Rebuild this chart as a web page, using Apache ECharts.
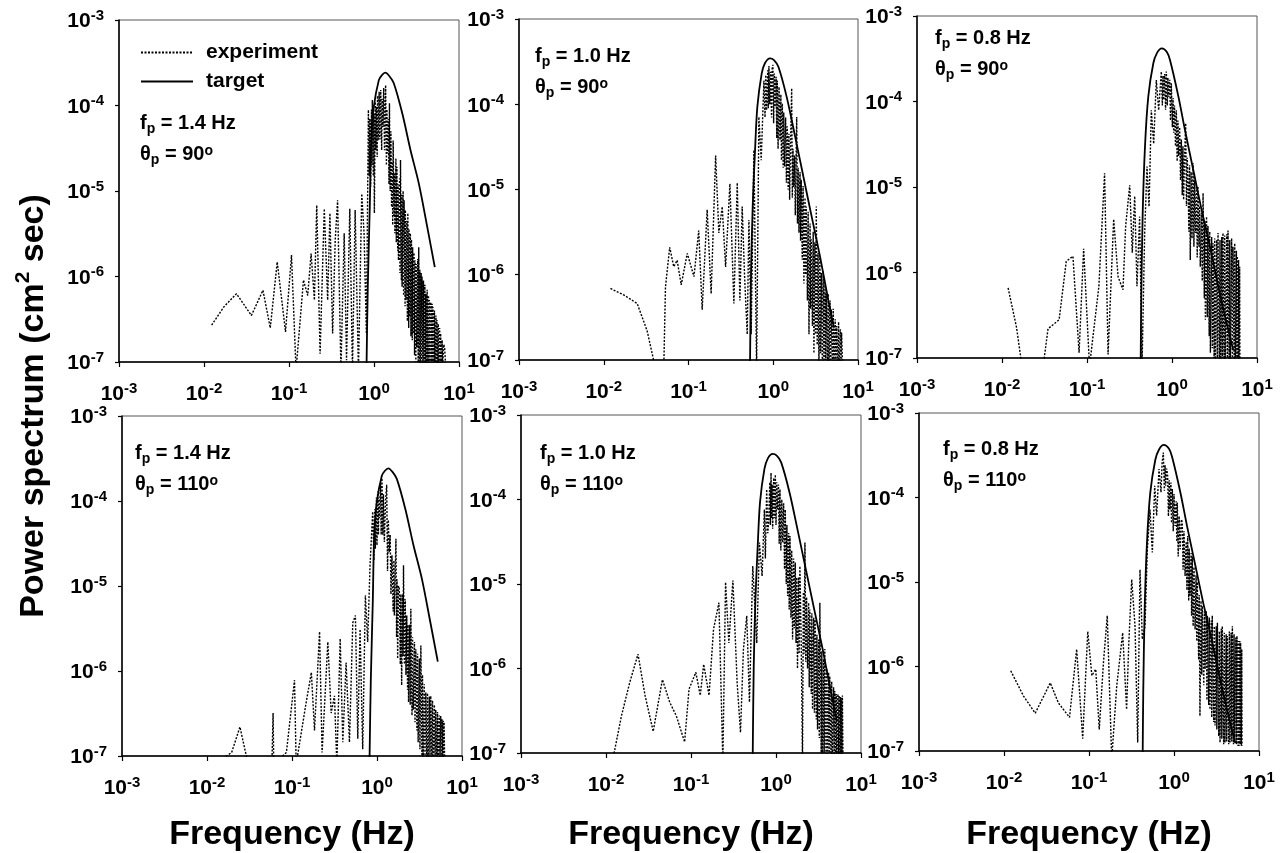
<!DOCTYPE html>
<html>
<head>
<meta charset="utf-8">
<title>Power spectrum</title>
<script src="https://cdn.jsdelivr.net/npm/echarts/dist/echarts.min.js"></script>
<style>
    html, body { margin: 0; padding: 0; background: #fff; }
    #chart { width: 1282px; height: 853px; }
</style>
</head>
<body>
<div id="chart"></div>
<script>

// target spectra (solid), [frequency Hz, power cm^2 sec]
var target14 = [[0.817,9e-8],[0.845,7.5e-7],[0.892,6.5e-6],[0.927,3.9e-5],[0.995,9.7e-5],[1.14,1.98e-4],[1.24,2.27e-4],[1.36,2.42e-4],
    [1.52,2.2e-4],[1.71,1.82e-4],[2.15,8.1e-5],[2.69,3.0e-5],[3.37,1.22e-5],[4.23,3.8e-6],[5.19,1.29e-6]];
var target10 = [[0.532,9e-8],[0.547,1.04e-6],[0.572,6.3e-6],[0.61,2.9e-5],[0.649,9.3e-5],[0.731,2.3e-4],[0.80,3.05e-4],[0.916,3.46e-4],
    [1.02,3.3e-4],[1.15,2.75e-4],[1.44,1.22e-4],[1.81,4.2e-5],[2.27,1.41e-5],[2.84,4.8e-6],[3.57,1.62e-6],[4.47,5.0e-7],[5.2,2.4e-7]];
var target08 = [[0.428,9e-8],[0.435,5.2e-7],[0.452,4.9e-6],[0.481,2.96e-5],[0.526,1.14e-4],[0.603,2.8e-4],[0.667,3.7e-4],[0.757,4.19e-4],
    [0.87,3.8e-4],[0.947,3.05e-4],[1.19,1.14e-4],[1.42,4.65e-5],[1.78,1.58e-5],[2.23,5.4e-6],[2.80,2.0e-6],[3.51,6.8e-7],[4.40,2.55e-7],[5.26,1.24e-7]];

// measured spectra (dotted)
var exp14_90 = [[0.0123,2.7e-7],[0.0171,4.4e-7],[0.0241,6.3e-7],[0.0361,3.5e-7],[0.0494,6.9e-7],[0.0602,2.5e-7],[0.0727,1.48e-6],
    [0.091,2.25e-7],[0.107,1.78e-6],[0.121,8e-8],[0.148,9.1e-7],[0.166,6.0e-7],[0.182,1.86e-6],[0.199,5.3e-7],[0.212,6.8e-6],
    [0.232,1.25e-7],[0.26,6.2e-6],[0.285,5.3e-7],[0.303,5.5e-6],[0.326,2.15e-7],[0.35,2.7e-6],[0.373,7.8e-6],[0.408,8e-8],
    [0.446,3.2e-6],[0.475,1.05e-7],[0.519,6.2e-6],[0.558,8e-8],[0.6,6.0e-6],[0.656,8e-8],[0.718,9.3e-6],[0.764,3.2e-6],
    [0.814,2.15e-7],[0.859,8.9e-5],[0.88,1.5e-5],[0.895,7e-5],[0.914,1.12e-5],[0.935,9e-5],[0.945,2e-5],[0.956,1.16e-4],
    [0.98,1.5e-5],[0.995,8e-5],[1.01,5.5e-6],[1.035,1.1e-4],[1.05,3e-5],[1.065,9.7e-5],[1.09,2.5e-5],[1.1,1.3e-4],[1.12,3.9e-5],
    [1.15,1.45e-4],[1.17,4e-5],[1.2,1.52e-4],[1.23,3e-5],[1.25,1.2e-4],[1.27,5.6e-5],[1.3,1.6e-4],[1.33,3e-5],[1.37,1.73e-4],
    [1.4,2e-5],[1.42,9e-5],[1.44,2.75e-5],[1.48,7e-5],[1.5,1.2e-5],[1.52,1.06e-4],[1.55,1e-5],[1.58,5e-5],
    [1.61,6.5e-6],[1.645,2.2e-5],[1.66,4e-6],[1.68,3.9e-5],[1.72,5e-6],
    [1.74,1.6e-5],[1.76,3.2e-6],[1.81,2.4e-5],[1.83,2.5e-6],[1.86,1.92e-5],[1.9,2e-6],[1.92,1.2e-5],[1.94,1.55e-6],[2.0,1.4e-5],
    [2.02,1.1e-6],[2.05,2.3e-5],[2.1,9e-7],[2.12,9e-6],[2.14,7.6e-7],[2.2,1.0e-5],[2.23,6e-7],[2.26,7.8e-6],[2.32,4.5e-7],
    [2.34,6e-6],[2.37,5.3e-7],[2.44,4.5e-6],[2.47,3e-7],[2.5,5.5e-6],[2.56,2.5e-7],[2.58,3.6e-6],[2.61,3.4e-7],[2.68,3.2e-6],
    [2.72,2e-7],[2.76,2.7e-6],[2.82,1.8e-7],[2.85,2.2e-6],[2.88,2.15e-7],[2.96,1.9e-6],[3.0,1.2e-7],[3.04,1.55e-6],[3.11,1e-7],
    [3.14,1.4e-6],[3.18,1.5e-7],[3.27,1.6e-6],[3.31,9e-8],[3.36,2.2e-6],[3.44,8e-8],[3.47,1.2e-6],[3.51,8e-8],[3.59,1.1e-6],
    [3.63,8e-8],[3.67,1.0e-6],[3.77,8e-8],[3.82,9e-7],[3.88,8e-8],[3.97,8e-7],[4.01,8e-8],[4.06,6.3e-7],[4.17,8e-8],[4.22,7e-7],
    [4.28,8e-8],[4.38,6e-7],[4.43,8e-8],[4.48,5.3e-7],[4.6,8e-8],[4.66,5e-7],[4.72,8e-8],[4.83,4.8e-7],[4.88,8e-8],[4.94,4.4e-7],
    [5.07,8e-8],[5.14,4e-7],[5.21,8e-8],[5.36,3.5e-7],[5.43,8e-8],[5.5,3.1e-7],[5.63,8e-8],[5.7,2.8e-7],[5.76,8e-8],[5.92,2.5e-7],
    [6.0,8e-8],[6.08,2.15e-7],[6.25,8e-8],[6.33,1.8e-7],[6.41,8e-8],[6.6,1.6e-7],[6.77,1.5e-7],[7.0,8e-8]];
var exp10_90 = [[0.012,6.9e-7],[0.0172,5.8e-7],[0.0248,4.6e-7],[0.0325,2.2e-7],[0.0407,8e-8],[0.0512,9e-8],[0.0535,7.2e-7],
    [0.06,2.1e-6],[0.067,1.24e-6],[0.0735,1.48e-6],[0.082,7.6e-7],[0.0967,1.78e-6],[0.116,9.5e-7],[0.132,3.3e-6],[0.145,3.9e-7],
    [0.166,5.8e-6],[0.185,6.0e-7],[0.209,2.5e-5],[0.228,3.1e-6],[0.25,6.3e-6],[0.274,1.23e-6],[0.308,1.17e-5],[0.343,4.6e-7],
    [0.376,1.2e-5],[0.404,5.0e-7],[0.43,6.3e-6],[0.459,9.5e-7],[0.493,2.0e-7],[0.516,4.4e-6],[0.549,2.0e-7],[0.591,2.9e-5],
    [0.636,8e-8],[0.677,7.1e-5],[0.721,2.2e-5],[0.776,1.9e-4],[0.80,7e-5],[0.815,2.2e-4],[0.834,8.5e-5],[0.86,2.5e-4],
    [0.875,9e-5],[0.889,2.8e-4],[0.91,1e-4],[0.93,2.4e-4],[0.955,7e-5],[0.97,2.6e-4],[0.991,2.9e-4],[1.01,6e-5],[1.03,2.3e-4],
    [1.05,9.3e-5],[1.08,2.1e-4],[1.1,4e-5],[1.115,1.9e-4],[1.14,3e-5],[1.17,1.6e-4],[1.2,3.8e-5],[1.23,1.3e-4],[1.25,2.2e-5],
    [1.28,1.02e-4],[1.31,1.8e-5],[1.33,8e-5],[1.36,1.86e-5],[1.4,7e-5],[1.43,1.2e-5],[1.46,5.5e-5],[1.5,1e-5],[1.53,4.5e-5],
    [1.56,7.6e-6],[1.6,3.5e-5],[1.65,1.54e-4],[1.68,8e-6],[1.71,3e-5],[1.75,1.07e-5],[1.79,2.5e-5],[1.82,5e-6],[1.86,2.2e-5],
    [1.89,7.1e-5],[1.93,4e-6],[1.97,1.8e-5],
    [2.01,3.1e-6],[2.07,1.6e-5],[2.1,2.5e-6],[2.14,1.3e-5],[2.2,1.5e-6],[2.25,1.1e-5],[2.3,7.9e-7],
    [2.37,8e-6],[2.41,1e-6],[2.45,6.3e-6],[2.53,5e-7],[2.58,5.5e-6],[2.64,2.0e-7],[2.72,4e-6],[2.76,4e-7],[2.81,2.6e-6],
    [2.9,2.5e-7],[2.96,3.2e-6],[3.02,1.2e-7],[3.1,2.4e-6],[3.15,2e-7],[3.22,6.3e-6],[3.3,1.5e-7],[3.38,1.8e-6],[3.46,8e-8],
    [3.55,1.6e-6],[3.62,1.2e-7],[3.69,1.05e-6],[3.8,8e-8],[3.88,1.1e-6],[3.97,8e-8],[4.08,8e-7],[4.15,1e-7],[4.23,6.0e-7],
    [4.36,8e-8],[4.45,6e-7],[4.54,8e-8],[4.68,5e-7],[4.76,8e-8],[4.84,3.9e-7],[5.0,8e-8],[5.1,4e-7],[5.2,8e-8],[5.38,3e-7],
    [5.48,8e-8],[5.6,2.5e-7],[5.8,8e-8],[5.9,2.8e-7],[6.0,8e-8],[6.2,2.3e-7],[6.3,8e-8],[6.4,2.1e-7],[6.6,8e-8]];
var exp08_90 = [[0.0118,6.6e-7],[0.0148,2.3e-7],[0.0172,8e-8],[0.0305,8e-8],[0.0348,2.2e-7],[0.047,2.8e-7],[0.057,1.35e-6],
    [0.0683,1.55e-6],[0.0807,1.15e-7],[0.0913,1.9e-6],[0.107,8e-8],[0.138,6.9e-7],[0.161,1.45e-5],[0.177,1.1e-7],[0.206,4.2e-6],
    [0.232,8.9e-7],[0.265,6.3e-7],[0.285,3.5e-6],[0.318,1.05e-5],[0.341,1.7e-6],[0.364,7.8e-6],[0.387,6.9e-7],[0.416,4.5e-6],
    [0.444,8e-8],[0.477,2.9e-6],[0.508,1.74e-5],[0.537,5.9e-6],[0.571,7.9e-5],[0.609,3.2e-5],[0.654,1.78e-4],[0.697,7.9e-5],
    [0.749,2.24e-4],[0.77,9e-5],[0.785,2e-4],[0.798,1.05e-4],[0.82,2.1e-4],[0.84,8e-5],[0.858,2.24e-4],[0.88,9e-5],[0.895,1.9e-4],
    [0.914,1.14e-4],[0.94,1.8e-4],[0.96,6e-5],[0.982,1.63e-4],[1.01,5e-5],[1.03,1.1e-4],[1.046,4.3e-5],[1.07,9e-5],[1.1,3e-5],
    [1.124,7.9e-5],[1.15,2e-5],[1.175,6e-5],[1.198,2.3e-5],[1.23,5e-5],[1.26,1.2e-5],[1.288,3.6e-5],[1.32,8e-6],[1.345,3e-5],
    [1.37,7.1e-6],[1.41,2.5e-5],[1.448,5.6e-5],[1.48,6e-6],[1.51,2.2e-5],[1.54,1.3e-5],[1.58,3e-6],[1.61,1.8e-5],[1.64,1.4e-6],
    [1.68,1.5e-5],[1.72,2.5e-6],[1.77,1.9e-5],[1.81,2e-6],[1.85,1.2e-5],[1.9,2.9e-6],[1.95,1e-5],[1.98,1.5e-6],[2.02,1.02e-5],
    [2.08,2e-6],[2.11,6e-6],[2.15,1.17e-6],[2.22,5e-6],[2.27,8e-7],[2.32,8.5e-6],[2.4,5e-7],[2.43,4e-6],[2.47,2.8e-7],[2.55,4.5e-6],
    [2.6,3e-7],[2.65,3.5e-6],[2.74,1.8e-7],[2.78,3e-6],[2.83,1.15e-7],[2.93,2.6e-6],[2.98,1.3e-7],[3.04,2.2e-6],[3.13,1e-7],
    [3.18,2.5e-6],[3.23,8e-8],[3.35,2.4e-6],[3.41,1e-7],[3.48,2.9e-6],[3.6,8e-8],[3.67,2.4e-6],[3.74,8e-8],[3.85,2.6e-6],
    [3.91,1e-7],[3.98,2.9e-6],[4.1,8e-8],[4.17,2.7e-6],[4.24,8e-8],[4.4,2.8e-6],[4.48,1e-7],[4.56,3.1e-6],[4.7,8e-8],[4.78,2.4e-6],
    [4.86,8e-8],[5.03,2.5e-6],[5.12,1e-7],[5.22,2.0e-6],[5.38,8e-8],[5.47,2.2e-6],[5.56,8e-8],[5.72,1.8e-6],[5.8,1e-7],
    [5.87,1.55e-6],[6.0,8e-8],[6.07,1.4e-6],[6.14,8e-8],[6.25,1.17e-6],[6.3,8e-8]];
var exp14_110 = [[0.0122,8e-8],[0.0195,1.1e-7],[0.0244,2.2e-7],[0.0305,8e-8],[0.058,8e-8],[0.0599,3.2e-7],[0.061,8e-8],
    [0.0859,1.1e-7],[0.107,7.8e-7],[0.112,8e-8],[0.147,4.3e-7],[0.169,9.6e-7],[0.184,2.0e-7],[0.211,2.9e-6],[0.226,1.1e-7],
    [0.264,2.2e-6],[0.289,3.2e-7],[0.316,5.1e-7],[0.337,8e-8],[0.369,2.4e-6],[0.396,1.45e-7],[0.433,1.26e-6],[0.474,1.45e-7],
    [0.519,3.7e-6],[0.557,4.5e-6],[0.594,1.6e-7],[0.632,3.1e-6],[0.679,1.2e-7],[0.73,7.8e-6],[0.777,2.2e-6],[0.828,1.75e-5],
    [0.89,7.5e-5],[0.92,2e-5],[0.94,8e-5],[0.956,2.75e-5],[0.985,1.1e-4],[1.0,3e-5],[1.018,1.29e-4],[1.04,4e-5],[1.05,1.1e-4],
    [1.065,6.3e-5],[1.1,1.6e-4],[1.12,4e-5],[1.144,1.85e-4],[1.17,4e-5],[1.19,1.2e-4],[1.22,3.3e-5],[1.26,1e-4],[1.3,1.55e-4],
    [1.33,1.5e-5],[1.36,6e-5],[1.39,2.5e-5],[1.43,4e-5],[1.46,8e-6],[1.5,2.3e-5],[1.55,5e-6],[1.58,2e-5],[1.6,4.5e-6],
    [1.67,3.6e-5],[1.7,2.5e-6],[1.72,1.2e-5],[1.75,1.4e-6],[1.79,1e-5],[1.83,9.3e-6],[1.88,1.2e-6],[1.91,8e-6],
    [1.95,6.8e-7],[2.0,8e-6],[2.02,1.5e-6],[2.05,1.75e-5],
    [2.1,1.2e-6],[2.15,7e-6],[2.19,9e-7],[2.24,4.5e-6],[2.29,6e-7],[2.32,3.5e-6],[2.35,4.3e-7],[2.42,3.5e-6],[2.46,4e-7],
    [2.5,5.4e-6],[2.58,3e-7],[2.62,2.5e-6],[2.67,3.5e-7],[2.76,2.2e-6],[2.8,2.5e-7],[2.86,1.8e-6],[2.95,2e-7],[3.0,1.6e-6],
    [3.05,1.45e-7],[3.15,1.4e-6],[3.2,1.2e-7],[3.28,2.0e-6],[3.38,1e-7],[3.43,9e-7],[3.49,8e-8],[3.6,7e-7],[3.67,1e-7],
    [3.75,5.6e-7],[3.86,8e-8],[3.93,5.5e-7],[4.0,8e-8],[4.13,5e-7],[4.2,9e-8],[4.29,5.1e-7],[4.42,8e-8],[4.5,4.5e-7],[4.57,8e-8],
    [4.73,4e-7],[4.82,9e-8],[4.91,3.5e-7],[5.06,8e-8],[5.15,3.3e-7],[5.23,8e-8],[5.4,3e-7],[5.5,9e-8],[5.62,2.95e-7],[5.75,8e-8],
    [5.82,2.7e-7],[5.89,8e-8],[6.02,2.6e-7],[6.08,8e-8],[6.15,2.5e-7],[6.26,8e-8]];
var exp10_110 = [[0.0122,9e-8],[0.0152,2.75e-7],[0.019,6.8e-7],[0.0238,1.48e-6],[0.0288,4.8e-7],[0.0359,1.8e-7],[0.0461,7.4e-7],
    [0.0561,4.0e-7],[0.0672,2.75e-7],[0.0841,1.35e-7],[0.0948,5.7e-7],[0.114,9.0e-7],[0.1285,4.8e-7],[0.141,1.12e-6],[0.163,4.8e-7],
    [0.184,2.9e-6],[0.213,6.0e-6],[0.237,8e-8],[0.255,1.05e-5],[0.279,2.0e-6],[0.311,1.1e-5],[0.349,6.8e-7],[0.382,1.75e-7],
    [0.414,1.7e-6],[0.453,4.2e-6],[0.487,4.0e-7],[0.533,1.63e-5],[0.594,2.0e-6],[0.638,3.1e-5],[0.686,1.24e-5],[0.73,7.6e-5],
    [0.75,2e-5],[0.777,1.32e-4],[0.8,4e-5],[0.82,5.3e-5],[0.845,1.6e-4],[0.86,5e-5],[0.874,2.07e-4],[0.89,6e-5],[0.9,1.5e-4],
    [0.914,4.5e-5],[0.94,1.8e-4],[0.96,6e-5],[0.982,1.97e-4],[1.0,5e-5],[1.02,1.6e-4],[1.046,7.6e-5],[1.07,1.5e-4],[1.09,3e-5],
    [1.114,1.32e-4],[1.14,2.5e-5],[1.17,1e-4],[1.197,3.1e-5],[1.23,9e-5],[1.26,1.5e-5],[1.286,7.6e-5],[1.32,1e-5],[1.345,5e-5],
    [1.37,7.2e-6],[1.41,4e-5],[1.43,5e-6],[1.46,3.7e-5],[1.5,4e-6],[1.53,2.5e-5],[1.567,2.2e-6],[1.61,2e-5],[1.64,3e-6],
    [1.685,1.8e-5],[1.72,2e-6],[1.75,1.2e-5],[1.79,1.0e-6],[1.84,1.2e-5],[1.87,1.5e-6],[1.91,1.63e-5],[1.98,2e-6],[2.05,8e-8],
    [2.1,8e-6],[2.14,1.5e-6],[2.19,3.1e-5],[2.24,1.2e-6],[2.29,7e-6],[2.35,1.0e-6],[2.42,6e-6],[2.46,6e-7],[2.5,5.0e-6],[2.6,5e-7],
    [2.64,4.5e-6],[2.69,3.3e-7],[2.78,4e-6],[2.83,3e-7],[2.89,3.8e-6],[2.98,2.5e-7],[3.03,2.5e-6],[3.08,1.9e-7],[3.18,2.2e-6],
    [3.23,1.5e-7],[3.28,6.0e-6],[3.4,1e-7],[3.46,1.6e-6],[3.52,8e-8],[3.63,1.3e-6],[3.69,1e-7],[3.75,1.7e-6],[3.88,8e-8],
    [3.95,1e-6],[4.03,8e-8],[4.16,9e-7],[4.22,1e-7],[4.29,8.1e-7],[4.44,8e-8],[4.52,7e-7],[4.61,8e-8],[4.76,6e-7],[4.84,9e-8],
    [4.91,5.4e-7],[5.04,8e-8],[5.11,5e-7],[5.19,8e-8],[5.35,5e-7],[5.44,8e-8],[5.52,4.8e-7],[5.65,8e-8],[5.72,4.6e-7],[5.78,8e-8],
    [5.91,4.5e-7],[5.97,8e-8],[6.04,4.8e-7],[6.15,8e-8]];
var exp08_110 = [[0.012,8.9e-7],[0.0169,4.5e-7],[0.0233,2.8e-7],[0.035,6.4e-7],[0.0437,3.7e-7],[0.059,2.5e-7],[0.0716,1.6e-6],
    [0.0843,1.4e-7],[0.0967,2.6e-6],[0.108,7.8e-7],[0.12,9.3e-7],[0.132,1.8e-7],[0.148,1.12e-6],[0.164,4.0e-6],[0.185,8e-8],
    [0.212,5.9e-7],[0.249,2.5e-6],[0.277,3.1e-7],[0.293,1.74e-6],[0.318,1.07e-5],[0.348,3.0e-6],[0.374,1.26e-7],[0.398,1.4e-5],
    [0.424,2.1e-6],[0.456,3.0e-6],[0.486,2.45e-5],[0.522,7.2e-5],[0.556,2.24e-5],[0.593,1.38e-4],[0.625,6.1e-5],[0.666,2.17e-4],
    [0.703,1.15e-4],[0.725,2.6e-4],[0.749,3.4e-4],[0.77,1.2e-4],[0.785,2.4e-4],[0.798,1.38e-4],[0.82,2.2e-4],[0.842,1.8e-4],
    [0.86,6e-5],[0.88,1.6e-4],[0.897,7.2e-5],[0.92,1.5e-4],[0.935,5e-5],[0.956,1.26e-4],[0.98,4e-5],[1.0,1.1e-4],[1.03,4.6e-5],
    [1.06,9e-5],[1.08,3e-5],[1.094,8.7e-5],[1.12,2e-5],[1.15,6e-5],[1.18,2.45e-5],[1.22,5.5e-5],[1.25,5.1e-5],[1.28,1.4e-5],
    [1.31,4e-5],[1.35,1.18e-5],[1.39,3e-5],[1.42,8e-6],[1.45,3.5e-5],[1.49,6e-6],[1.51,2.5e-5],[1.54,6.9e-6],[1.59,2.2e-5],
    [1.61,4e-6],[1.64,2.0e-5],[1.68,3e-6],[1.72,1.5e-5],[1.77,2.75e-6],[1.82,1.2e-5],[1.85,2e-6],[1.88,1.0e-5],
    [1.95,1.2e-6],[1.98,7e-6],[2.02,2.6e-7],[2.08,6e-6],[2.12,8e-7],[2.15,5.2e-6],[2.24,6e-7],[2.28,4.5e-6],[2.32,9.3e-7],
    [2.4,4.5e-6],[2.44,4e-7],[2.47,4.0e-6],[2.56,3.5e-7],[2.6,3.8e-6],[2.65,3.1e-7],[2.74,3.5e-6],[2.78,2.5e-7],[2.82,4.0e-6],
    [2.93,2.2e-7],[2.98,3e-6],[3.04,2.0e-7],[3.14,3e-6],[3.19,1.8e-7],[3.24,3.3e-6],[3.36,1.5e-7],[3.42,2.6e-6],[3.48,1.26e-7],
    [3.6,2.8e-6],[3.65,1.4e-7],[3.7,3.0e-6],[3.84,1.2e-7],[3.91,2.5e-6],[3.98,1.26e-7],[4.11,2.4e-6],[4.17,1.3e-7],[4.24,2.3e-6],
    [4.4,1.2e-7],[4.48,2.6e-6],[4.56,1.26e-7],[4.7,2.5e-6],[4.78,1.3e-7],[4.86,3.0e-6],[5.01,1.2e-7],[5.09,2.4e-6],[5.17,1.26e-7],
    [5.34,2.2e-6],[5.42,1.2e-7],[5.51,2.3e-6],[5.66,1.15e-7],[5.74,2e-6],[5.82,1.15e-7],[5.95,2e-6],[6.02,1.2e-7],[6.08,1.9e-6],
    [6.2,1.15e-7],[6.27,1.6e-6],[6.31,1.15e-7]];

// panel texts
var peakFreqs = ['1.4', '1.0', '0.8', '1.4', '1.0', '0.8'];
var peakAngles = ['90', '90', '90', '110', '110', '110'];

var expList = [exp14_90, exp10_90, exp08_90, exp14_110, exp10_110, exp08_110];
var targetList = [target14, target10, target08, target14, target10, target08];

// plot boxes
var boxes = [
    {left: 119, top: 20, width: 340, height: 342},
    {left: 519, top: 19, width: 339, height: 341},
    {left: 917, top: 16, width: 340, height: 342},
    {left: 122, top: 416, width: 340, height: 341},
    {left: 521, top: 415, width: 340, height: 339},
    {left: 919, top: 413, width: 340, height: 339}
];

var FONT = '"Liberation Sans", Arial, sans-serif';

var powRich = {
    b: {fontFamily: FONT, fontSize: 21, fontWeight: 'bold', color: '#000', lineHeight: 24, verticalAlign: 'bottom'},
    s: {fontFamily: FONT, fontSize: 15, fontWeight: 'bold', color: '#000', lineHeight: 15, verticalAlign: 'top'}
};

function powLabel(v) {
    var e = Math.round(Math.log(v) / Math.LN10);
    return '{b|10}{s|' + e + '}';
}

var chart = echarts.init(document.getElementById('chart'));

var grids = [], xAxes = [], yAxes = [], series = [], graphics = [];

for (var i = 0; i < 6; i++) {
    var b = boxes[i];
    grids.push({left: b.left, top: b.top, width: b.width, height: b.height,
        show: true, borderColor: '#555', borderWidth: 1, containLabel: false});

    var xa = {
        type: 'log', logBase: 10, gridIndex: i, min: 0.001, max: 10,
        axisLine: {lineStyle: {color: '#000', width: 1.5}},
        axisTick: {show: true, length: 5, lineStyle: {color: '#000', width: 1.2}},
        splitLine: {show: false},
        axisLabel: {formatter: powLabel, rich: powRich, margin: 19, interval: 0,
            showMinLabel: true, showMaxLabel: true, hideOverlap: false}
    };
    if (i >= 3) {
        xa.name = 'Frequency (Hz)';
        xa.nameLocation = 'middle';
        xa.nameGap = 819 - (b.top + b.height);
        xa.nameTextStyle = {fontFamily: FONT, fontSize: 34, fontWeight: 'bold', color: '#000', verticalAlign: 'top'};
    }
    xAxes.push(xa);

    yAxes.push({
        type: 'log', logBase: 10, gridIndex: i, min: 1e-7, max: 1e-3,
        axisLine: {lineStyle: {color: '#000', width: 1.5}},
        axisTick: {show: true, length: 4, lineStyle: {color: '#000', width: 1.2}},
        splitLine: {show: false},
        axisLabel: {formatter: powLabel, rich: powRich, margin: 15, interval: 0,
            showMinLabel: true, showMaxLabel: true, hideOverlap: false}
    });

    series.push({
        name: 'experiment', type: 'line', xAxisIndex: i, yAxisIndex: i,
        data: expList[i], symbol: 'none', clip: true, silent: true,
        lineStyle: {color: '#000', width: 1.4, type: [2, 1.5]},
        itemStyle: {color: '#000'}
    });
    series.push({
        name: 'target', type: 'line', xAxisIndex: i, yAxisIndex: i,
        data: targetList[i], symbol: 'none', clip: true, silent: true, smooth: 0.3,
        lineStyle: {color: '#000', width: 1.8, type: 'solid'},
        itemStyle: {color: '#000'}
    });
}

// f_p / theta_p notes, top-left of each panel
var notePos = [[140, 112], [535, 45], [935, 27], [135, 442], [540, 442], [943, 438]];
var noteRich = {
    t: {fontFamily: FONT, fontSize: 20, fontWeight: 'bold', fill: '#000', lineHeight: 23, verticalAlign: 'top'},
    u: {fontFamily: FONT, fontSize: 14, fontWeight: 'bold', fill: '#000', lineHeight: 15, verticalAlign: 'bottom', padding: [10, 0, 0, 0]},
    o: {fontFamily: FONT, fontSize: 14, fontWeight: 'bold', fill: '#000', lineHeight: 15, verticalAlign: 'top'}
};
for (var k = 0; k < 6; k++) {
    graphics.push({
        type: 'text', left: notePos[k][0], top: notePos[k][1], silent: true,
        style: {text: '{t|f}{u|p}{t| = ' + peakFreqs[k] + ' Hz}', rich: noteRich}
    });
    graphics.push({
        type: 'text', left: notePos[k][0], top: notePos[k][1] + 31, silent: true,
        style: {text: '{t|\u03b8}{u|p}{t| = ' + peakAngles[k] + '}{o|o}', rich: noteRich}
    });
}

// shared y title
graphics.push({
    type: 'text', x: 32, y: 406, rotation: Math.PI / 2, silent: true,
    style: {
        text: '{a|Power spectrum (cm}{s|2}{a| sec)}',
        align: 'center', verticalAlign: 'middle',
        rich: {
            a: {fontFamily: FONT, fontSize: 34, fontWeight: 'bold', fill: '#000', lineHeight: 38, verticalAlign: 'bottom'},
            s: {fontFamily: FONT, fontSize: 21, fontWeight: 'bold', fill: '#000', lineHeight: 21, verticalAlign: 'top'}
        }
    }
});

chart.setOption({
    animation: false,
    backgroundColor: '#fff',
    legend: {
        data: ['experiment', 'target'],
        orient: 'vertical', left: 135, top: 37,
        itemWidth: 52, itemHeight: 14, itemGap: 8,
        selectedMode: false,
        itemStyle: {opacity: 0, borderWidth: 0},
        textStyle: {fontFamily: FONT, fontSize: 21, fontWeight: 'bold', color: '#000', padding: [0, 0, 0, 8]}
    },
    grid: grids,
    xAxis: xAxes,
    yAxis: yAxes,
    series: series,
    graphic: graphics
});
</script>
</body>
</html>
